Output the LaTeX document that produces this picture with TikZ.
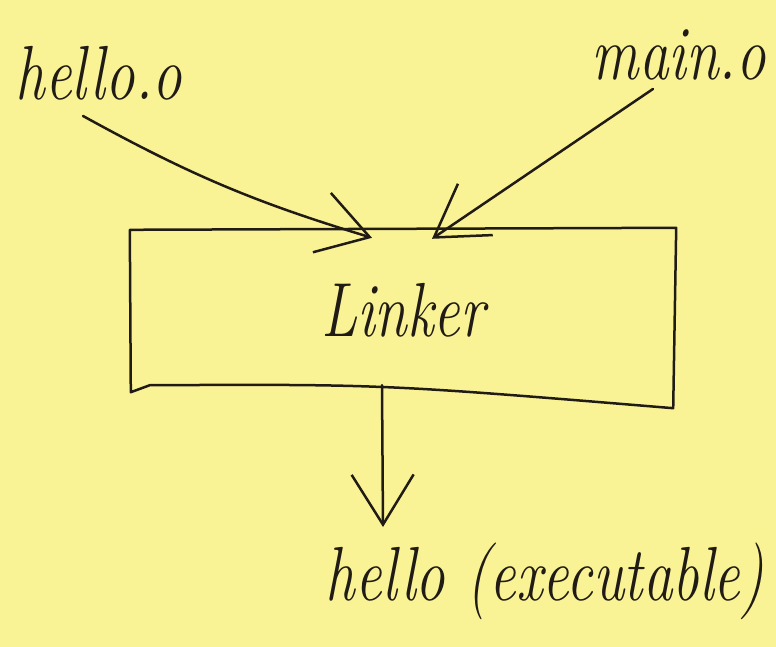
\documentclass[tikz,border=0pt]{standalone}
\usepackage{fontspec}
\usepackage{graphicx}
\usetikzlibrary{arrows.meta,calc}

\definecolor{paper}{RGB}{250,243,150}
\definecolor{ink}{RGB}{32,27,20}

% handwritten-looking labels: italic, stretched upward a little
\newcommand{\handtext}[1]{\scalebox{1}[1.3]{#1}}

\begin{document}
\begin{tikzpicture}[x=1pt,y=-1pt,
  hand/.style={font=\fontsize{59}{70}\selectfont\itshape, text=ink, inner sep=0pt},
  pen/.style={draw=ink, line width=2.5pt, line cap=round, line join=round},
  link/.style={pen, -{Straight Barb[length=50pt,width=62pt]}}
]
  % sheet of yellow paper
  \fill[paper] (0,0) rectangle (776,647);
  \useasboundingbox (0,0) rectangle (776,647);

  % inputs
  \node[hand, anchor=base] (hello) at (99,100) {\handtext{hello.o}};
  \node[hand, anchor=base] (main)  at (679,80) {\handtext{main.o}};

  % the linker box
  \node[hand, minimum width=546pt, minimum height=160pt] (linker) at (403,310) {\handtext{Linker}};
  \draw[pen] (linker.north west) -- ($(linker.north east)+(0,-2)$)
    -- ($(linker.south east)+(-3,18)$)
    .. controls ($(linker.south)+(-20,-6)$) .. ($(linker.south west)+(20,-5)$)
    -- ($(linker.south west)+(1,2)$) -- cycle;

  % output
  \node[hand, anchor=base] (exe) at (545,600) {\handtext{hello (executable)}};

  % connectors
  \draw[link] ($(hello.south)+(-16,15)$) to[bend right=6] ($(linker.north)+(-31,8)$);
  \draw[link] ($(main.south)+(-26,8)$) -- ($(linker.north)+(29,9)$);
  \draw[link] ($(linker.south)+(-21,-5)$) -- ($(exe.base)+(-162,-73)$);
\end{tikzpicture}
\end{document}
